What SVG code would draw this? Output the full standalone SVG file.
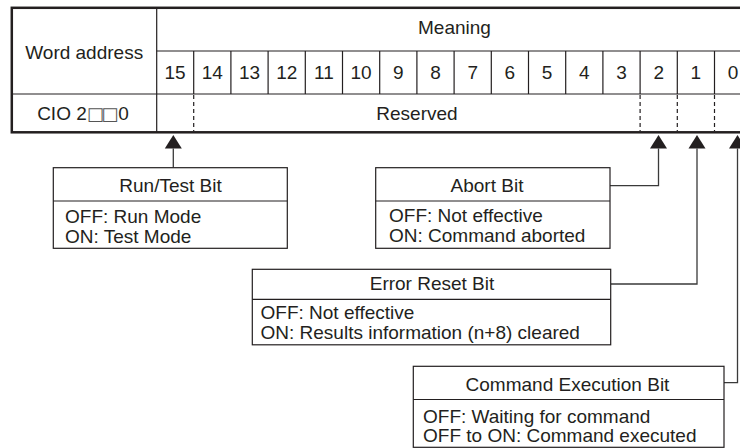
<svg xmlns="http://www.w3.org/2000/svg" width="740" height="448" viewBox="0 0 740 448">
<defs>
<style>
text{font-family:"Liberation Sans",Arial,Helvetica,sans-serif;font-size:19px;fill:#231f20}
.c{text-anchor:middle}
.sq{font-family:"DejaVu Sans",sans-serif;font-size:18px;fill:#555}
.tight{letter-spacing:-2.5px}
.thin{stroke:#231f20;stroke-width:1.2;fill:none}
.thick{stroke:#231f20;stroke-width:2.5;fill:none}
.dash{stroke:#231f20;stroke-width:1.2;stroke-dasharray:4 3;fill:none}
.box{stroke:#231f20;stroke-width:1.2;fill:#fff}
.conn{stroke:#3a3a3a;stroke-width:1.3;fill:none;marker-end:url(#arr)}
</style>
<marker id="arr" markerUnits="userSpaceOnUse" markerWidth="14" markerHeight="17" refX="0" refY="8.5" orient="auto" overflow="visible">
<path d="M0,0 L13.5,8.5 L0,17 Z" fill="#231f20"/>
</marker>
</defs>
<rect width="740" height="448" fill="#fff"/>

<g id="table">
<rect class="thick" x="11.8" y="7.8" width="745" height="124.5"/>
<line class="thin" x1="156.7" y1="7.8" x2="156.7" y2="132.3"/>
<line class="thin" x1="156.7" y1="51" x2="752" y2="51"/>
<line class="thin" x1="11.8" y1="94" x2="752" y2="94"/>
<g class="thin">
<line x1="193.7" y1="51" x2="193.7" y2="94"/>
<line x1="230.9" y1="51" x2="230.9" y2="94"/>
<line x1="268.1" y1="51" x2="268.1" y2="94"/>
<line x1="305.3" y1="51" x2="305.3" y2="94"/>
<line x1="342.5" y1="51" x2="342.5" y2="94"/>
<line x1="379.7" y1="51" x2="379.7" y2="94"/>
<line x1="416.9" y1="51" x2="416.9" y2="94"/>
<line x1="454.1" y1="51" x2="454.1" y2="94"/>
<line x1="491.3" y1="51" x2="491.3" y2="94"/>
<line x1="528.5" y1="51" x2="528.5" y2="94"/>
<line x1="565.7" y1="51" x2="565.7" y2="94"/>
<line x1="602.9" y1="51" x2="602.9" y2="94"/>
<line x1="640.1" y1="51" x2="640.1" y2="94"/>
<line x1="677.3" y1="51" x2="677.3" y2="94"/>
<line x1="714.5" y1="51" x2="714.5" y2="94"/>
</g>
<g class="dash">
<line x1="193.7" y1="95" x2="193.7" y2="131"/>
<line x1="640.1" y1="95" x2="640.1" y2="131"/>
<line x1="677.3" y1="95" x2="677.3" y2="131"/>
<line x1="714.5" y1="95" x2="714.5" y2="131"/>
</g>
<text class="c" x="84.2" y="59">Word address</text>
<text class="c" x="454.5" y="34">Meaning</text>
<g>
<text class="c" x="175.1" y="79">15</text>
<text class="c" x="212.3" y="79">14</text>
<text class="c" x="249.5" y="79">13</text>
<text class="c" x="286.7" y="79">12</text>
<text class="c" x="323.9" y="79">11</text>
<text class="c" x="361.1" y="79">10</text>
<text class="c" x="398.3" y="79">9</text>
<text class="c" x="435.5" y="79">8</text>
<text class="c" x="472.7" y="79">7</text>
<text class="c" x="509.9" y="79">6</text>
<text class="c" x="547.1" y="79">5</text>
<text class="c" x="584.3" y="79">4</text>
<text class="c" x="621.5" y="79">3</text>
<text class="c" x="658.7" y="79">2</text>
<text class="c" x="695.9" y="79">1</text>
<text class="c" x="733.1" y="79">0</text>
</g>
<text class="c" x="83" y="119.5">CIO 2<tspan class="sq tight">□</tspan><tspan class="sq">□</tspan>0</text>
<text class="c" x="417" y="120">Reserved</text>
</g>

<g id="connectors">
<path class="conn" d="M173.3,167.7 V148.5"/>
<path class="conn" d="M610,185.7 H658.5 V148.5"/>
<path class="conn" d="M610.7,284 H697 V148.5"/>
<path class="conn" d="M724,382.7 H737.5 V148.5"/>
</g>

<g id="run-test-bit">
<rect class="box" x="53.3" y="167.7" width="234" height="80.6"/>
<line class="thin" x1="53.3" y1="201" x2="287.3" y2="201"/>
<text class="c" x="170.5" y="191.7">Run/Test Bit</text>
<text x="65" y="222.5">OFF: Run Mode</text>
<text x="65" y="243">ON: Test Mode</text>
</g>

<g id="abort-bit">
<rect class="box" x="375.7" y="167.7" width="234.3" height="80.6"/>
<line class="thin" x1="375.7" y1="201" x2="610" y2="201"/>
<text class="c" x="487" y="191.7">Abort Bit</text>
<text x="389" y="222">OFF: Not effective</text>
<text x="389" y="242">ON: Command aborted</text>
</g>

<g id="error-reset-bit">
<rect class="box" x="252.3" y="269.3" width="358.4" height="75.5"/>
<line class="thin" x1="252.3" y1="299.3" x2="610.7" y2="299.3"/>
<text class="c" x="432" y="290.3">Error Reset Bit</text>
<text x="260.5" y="319">OFF: Not effective</text>
<text x="260.5" y="339">ON: Results information (n+8) cleared</text>
</g>

<g id="command-execution-bit">
<rect class="box" x="413.3" y="366.3" width="310.7" height="81"/>
<line class="thin" x1="413.3" y1="399.5" x2="724" y2="399.5"/>
<text class="c" x="567.5" y="391">Command Execution Bit</text>
<text x="423" y="422.5">OFF: Waiting for command</text>
<text x="423" y="442">OFF to ON: Command executed</text>
</g>
</svg>
